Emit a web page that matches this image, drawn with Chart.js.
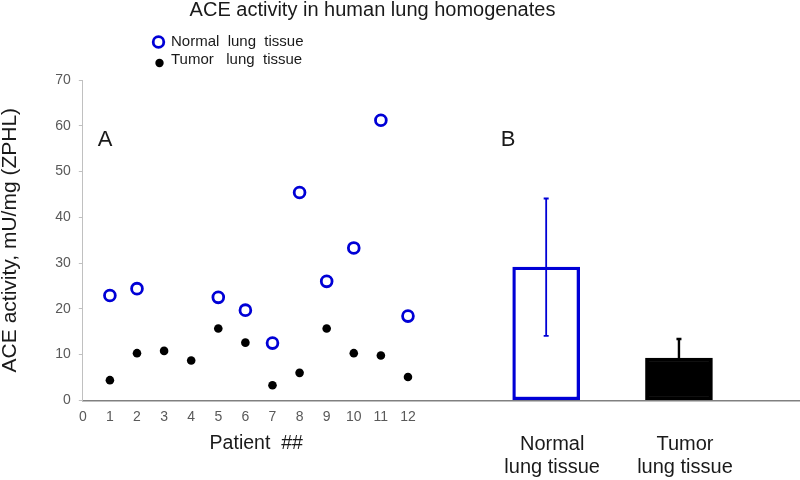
<!DOCTYPE html>
<html>
<head>
<meta charset="utf-8">
<script src="https://cdn.jsdelivr.net/npm/chart.js@4.4.0/dist/chart.umd.min.js"></script>
<style>
  html, body { margin: 0; padding: 0; background: #fff; }
  #wrap { width: 800px; height: 480px; }
</style>
</head>
<body>
<div id="wrap"><canvas id="aceChart" width="800" height="480"></canvas></div>
<script>
// patient-by-patient values (panel A)
const patients = [1, 2, 3, 4, 5, 6, 7, 8, 9, 10, 11, 12];
const normalTissue = [22.9, 24.4, null, null, 22.5, 19.7, 12.5, 45.4, 26.0, 33.3, 61.2, 18.4];
const tumorTissue = [4.4, 10.3, 10.8, 8.7, 15.7, 12.6, 3.3, 6.0, 15.7, 10.3, 9.8, 5.1];

// group means (panel B)
const groupNames = [['Normal', 'lung tissue'], ['Tumor', 'lung tissue']];
const groupPos = [17.1, 22.0];
const groupMean = [29.1, 9.2];
const groupSD = [15.0, 4.2];

const xTicks = [0, 1, 2, 3, 4, 5, 6, 7, 8, 9, 10, 11, 12];
const yTicks = [0, 10, 20, 30, 40, 50, 60, 70];

const FONT = "'Liberation Sans', Arial, sans-serif";
const BLUE = '#0000d6';

const overlay = {
    id: 'overlay',
    afterDatasetsDraw(chart) {
        const ctx = chart.ctx;
        const x = chart.scales.x, y = chart.scales.y;
        ctx.save();
        // error bars: normal gets both whiskers, tumor only the upper one
        groupPos.forEach((g, i) => {
            const px = x.getPixelForValue(g);
            const top = y.getPixelForValue(groupMean[i] + groupSD[i]);
            const low = y.getPixelForValue(i === 0 ? groupMean[i] - groupSD[i] : groupMean[i]);
            ctx.strokeStyle = i === 0 ? BLUE : '#000';
            ctx.lineWidth = i === 0 ? 1.8 : 2.4;
            ctx.beginPath();
            ctx.moveTo(px, top);
            ctx.lineTo(px, low);
            ctx.moveTo(px - 2.5, top);
            ctx.lineTo(px + 2.5, top);
            if (i === 0) {
                ctx.moveTo(px - 2.5, low);
                ctx.lineTo(px + 2.5, low);
            }
            ctx.stroke();
        });
        ctx.restore();
    },
    afterDraw(chart) {
        const ctx = chart.ctx;
        const x = chart.scales.x;
        const area = chart.chartArea;
        ctx.save();
        ctx.textBaseline = 'middle';
        ctx.fillStyle = '#1a1a1a';

        ctx.textAlign = 'center';
        ctx.font = '20px ' + FONT;
        ctx.fillText('ACE activity in human lung homogenates', 372.5, 10);

        // legend
        ctx.strokeStyle = BLUE;
        ctx.lineWidth = 2.8;
        ctx.beginPath();
        ctx.arc(158.5, 42, 5.3, 0, Math.PI * 2);
        ctx.stroke();
        ctx.fillStyle = '#000';
        ctx.beginPath();
        ctx.arc(159.5, 63, 4.2, 0, Math.PI * 2);
        ctx.fill();
        ctx.fillStyle = '#1a1a1a';
        ctx.textAlign = 'left';
        ctx.font = '15px ' + FONT;
        ctx.fillText('Normal  lung  tissue', 171, 42);
        ctx.fillText('Tumor   lung  tissue', 171, 60);

        // panel letters
        ctx.textAlign = 'center';
        ctx.font = '22px ' + FONT;
        ctx.fillText('A', 105, 140);
        ctx.fillText('B', 508, 140);

        // x axis title for panel A
        ctx.font = '19.5px ' + FONT;
        ctx.fillText('Patient  ##', x.getPixelForValue(6.4), area.bottom + 43);

        // group labels for panel B
        ctx.font = '20px ' + FONT;
        groupNames.forEach((lines, i) => {
            const px = x.getPixelForValue(groupPos[i]) + 6;
            lines.forEach((t, k) => ctx.fillText(t, px, area.bottom + 44 + k * 23));
        });
        ctx.restore();
    }
};

new Chart(document.getElementById('aceChart'), {
    type: 'scatter',
    data: {
        datasets: [
            {
                type: 'bar',
                data: groupPos.map((g, i) => ({ x: g, y: groupMean[i] })),
                backgroundColor: ['#fff', '#000'],
                borderColor: [BLUE, '#000'],
                borderWidth: 3.3,
                borderSkipped: false,
                barThickness: 67,
                grouped: false
            },
            {
                label: 'Normal lung tissue',
                data: patients.map((p, i) => ({ x: p, y: normalTissue[i] })).filter(d => d.y !== null),
                pointRadius: 5.4,
                pointBorderWidth: 2.8,
                pointBorderColor: BLUE,
                pointBackgroundColor: 'rgba(255,255,255,0)',
                showLine: false
            },
            {
                label: 'Tumor lung tissue',
                data: patients.map((p, i) => ({ x: p, y: tumorTissue[i] })),
                pointRadius: 4.3,
                pointBorderWidth: 0,
                pointBackgroundColor: '#000',
                showLine: false
            }
        ]
    },
    options: {
        responsive: false,
        animation: false,
        layout: { autoPadding: false, padding: { top: 80, right: 1, bottom: 0, left: 0 } },
        plugins: {
            legend: { display: false },
            tooltip: { enabled: false },
            title: { display: false }
        },
        scales: {
            x: {
                type: 'linear',
                min: 0,
                max: 26.43,
                offset: false,
                afterBuildTicks: s => { s.ticks = xTicks.map(v => ({ value: v })); },
                afterFit: s => { s.height = 79.7; },
                ticks: { color: '#595959', font: { family: FONT, size: 14 }, padding: 8, maxRotation: 0, autoSkip: false },
                grid: { display: false, drawTicks: false },
                border: { display: true, color: '#808080', width: 1.4 }
            },
            y: {
                min: 0,
                max: 70,
                afterBuildTicks: s => { s.ticks = yTicks.map(v => ({ value: v })); },
                afterFit: s => { s.width = 82.8; },
                ticks: { color: '#595959', font: { family: FONT, size: 14 }, padding: 8 },
                grid: { drawOnChartArea: false, drawTicks: true, tickLength: 4, color: '#c0c0c0' },
                border: { display: true, color: '#c0c0c0', width: 1 },
                title: {
                    display: true,
                    text: 'ACE activity, mU/mg (ZPHL)',
                    color: '#1a1a1a',
                    font: { family: FONT, size: 21, lineHeight: 1.0 },
                    padding: 0
                }
            }
        }
    },
    plugins: [overlay]
});
</script>
</body>
</html>
